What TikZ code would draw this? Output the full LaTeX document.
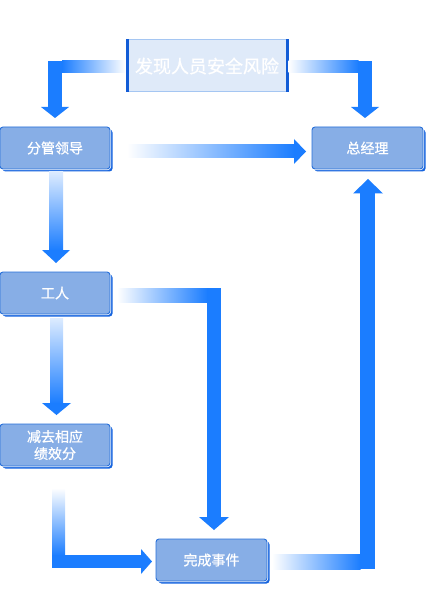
\documentclass[tikz,border=0pt]{standalone}
\usepackage{fontspec}
\setmainfont{Noto Sans CJK SC}
\newfontfamily\boxfont{Noto Sans CJK SC}[FakeBold=0.8]
\definecolor{ablue}{RGB}{27,125,255}
\definecolor{bfill}{RGB}{135,174,230}
\definecolor{bline}{RGB}{40,112,218}
\definecolor{bshadow}{RGB}{22,100,222}
\definecolor{tfill}{RGB}{223,234,249}
\definecolor{tedge}{RGB}{165,198,242}
\definecolor{tside}{RGB}{18,92,214}
\tikzset{
  box/.style={rectangle, rounded corners=3pt, fill=bfill, draw=bline, line width=0.9pt,
    minimum width=110pt, minimum height=42pt, text=white,
    font=\boxfont\fontsize{14}{17}\selectfont, align=center, inner sep=0pt},
  topbox/.style={rectangle, fill=tfill, draw=tedge, line width=1pt,
    minimum width=162pt, minimum height=52pt, text=white,
    font=\boxfont\fontsize{18}{20}\selectfont, inner sep=0pt},
  solidpart/.style={fill=ablue},
  hgrad/.style={left color=white, right color=ablue},
  hgradrev/.style={left color=ablue, right color=white},
  vgrad/.style={top color=white, bottom color=ablue},
  vgradlight/.style={top color=ablue!15, bottom color=ablue},
}
\newcommand\flowbox[5]{% name, left x, top y, width, text
  \fill[bshadow, rounded corners=3pt] (#2+2.5,#3+2.5) rectangle ++(#4,42);
  \node[box, minimum width=#4pt, preaction={draw=white, line width=2.4pt}] (#1) at (#2+#4/2,#3+21) {#5};
}
\begin{document}
\begin{tikzpicture}[x=1pt, y=-1pt]
\useasboundingbox (0,0) rectangle (437,609);

% ---- top box
\node[topbox] (top) at (207,66) {发现人员安全风险};
\fill[tside] (top.north west) rectangle ([xshift=3pt]top.south west);
\fill[tside] ([xshift=-3pt]top.north east) rectangle (top.south east);

% ---- boxes
\flowbox{fg}{0}{127}{110}{分管领导}
\flowbox{zjl}{312}{127}{111}{总经理}
\flowbox{gr}{0}{272}{110}{工人}
\flowbox{jq}{0}{424}{110}{减去相应\\绩效分}
\flowbox{wc}{156}{539}{111}{完成事件}

% ---- top -> fg
\shade[hgradrev] (62,61) rectangle (top.west |- 0,73);
\fill[solidpart] (48,61) rectangle (62,107.5);
\fill[solidpart] (41,107) -- (69,107) -- (55,118) -- cycle;

% ---- top -> zjl
\shade[hgrad] (top.east |- 0,61) rectangle (358.5,73);
\fill[solidpart] (358,61) rectangle (372,107.5);
\fill[solidpart] (351,107) -- (379,107) -- (365,118) -- cycle;

% ---- fg -> zjl
\shade[hgrad] (127,145) rectangle (294.5,158);
\fill[solidpart] (294,139) -- (306,151.5) -- (294,164) -- cycle;

% ---- fg -> gr
\shade[vgradlight] (49,172) rectangle (63,250.5);
\fill[solidpart] (42,250) -- (70,250) -- (56,263) -- cycle;

% ---- gr -> jq
\shade[vgradlight] (50,318) rectangle (63,403.5);
\fill[solidpart] (42,403) -- (71,403) -- (56.5,415) -- cycle;

% ---- gr -> wc
\shade[hgrad] (117,288) rectangle (207.5,302);
\fill[solidpart] (207,288) rectangle (221,517.5);
\fill[solidpart] (199,517) -- (229,517) -- (214,530) -- cycle;

% ---- jq -> wc
\shade[vgrad] (52,488) rectangle (65,555.5);
\fill[solidpart] (52,555) rectangle (141.5,568);
\fill[solidpart] (141,549) -- (141,574) -- (152,561.5) -- cycle;

% ---- wc -> zjl
\shade[hgrad] (272,554) rectangle (360.5,569);
\fill[solidpart] (360,193) rectangle (375,569);
\fill[solidpart] (353,193.5) -- (383,193.5) -- (368,179) -- cycle;
\end{tikzpicture}
\end{document}
